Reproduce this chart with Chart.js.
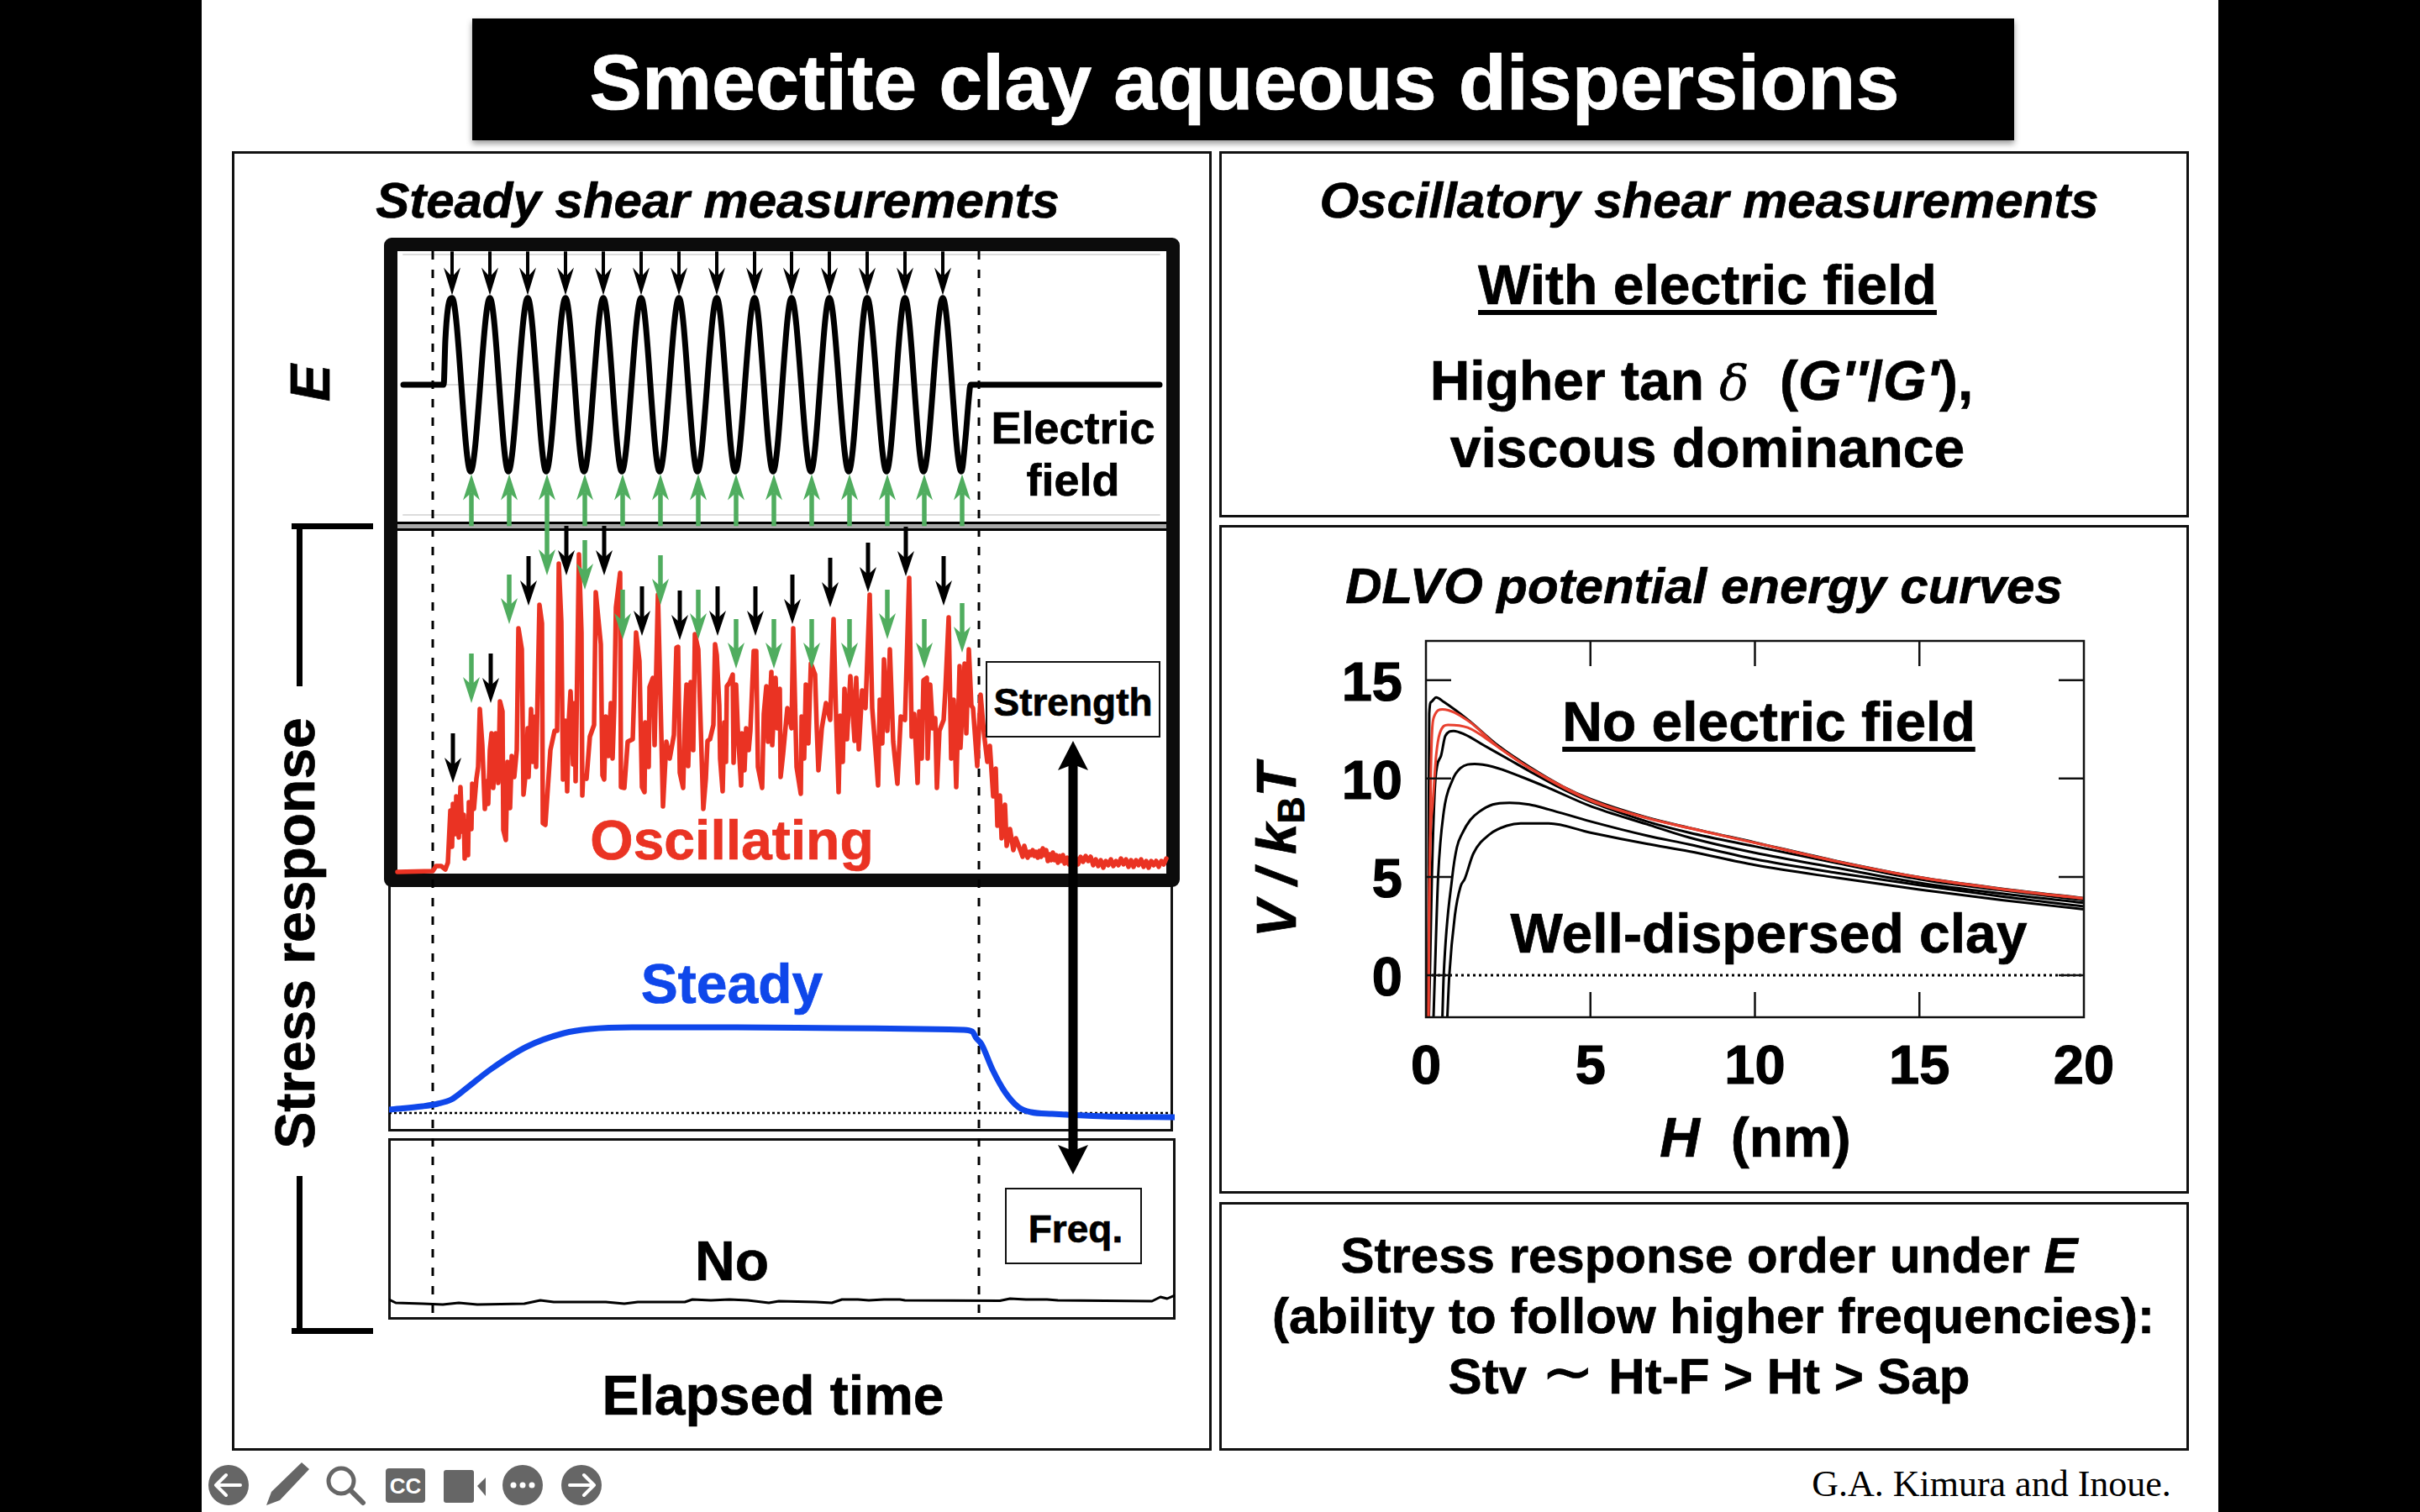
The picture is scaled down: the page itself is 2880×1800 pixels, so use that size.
<!DOCTYPE html>
<html>
<head>
<meta charset="utf-8">
<title>Smectite clay aqueous dispersions</title>
<script src="https://cdn.jsdelivr.net/npm/chart.js@4"></script>
<style>
  html, body { margin: 0; padding: 0; background: #000; }
  #slide { position: relative; width: 2880px; height: 1800px; background: #000; overflow: hidden;
           font-family: "Liberation Sans", Arial, sans-serif; font-weight: bold; color: #000; }
  #white { position: absolute; left: 240px; top: 0; width: 2400px; height: 1800px; background: #fff; }
  .box { position: absolute; box-sizing: border-box; border: 3px solid #111; background: #fff; }
  .t { position: absolute; white-space: nowrap; transform: translate(-50%, -50%); line-height: 1; z-index: 5; -webkit-text-stroke: 0.7px currentColor; }
  .v { transform: translate(-50%, -50%) rotate(-90deg); }
  .i { font-style: italic; }
  .u { text-decoration: underline; text-decoration-thickness: 6px; text-underline-offset: 7px; }
  canvas { position: absolute; z-index: 3; }
  .bar { position: absolute; background: #000; z-index: 2; }
</style>
</head>
<body>
<div id="slide">
  <div id="white"></div>

  <div style="position:absolute;left:562px;top:22px;width:1835px;height:145px;background:#000;box-shadow:0 4px 7px #999;"></div>
  <div class="t" style="left:1481px;top:98px;font-size:93.5px;color:#fff;">Smectite clay aqueous dispersions</div>

  <div class="box" style="left:276px;top:180px;width:1166px;height:1547px;"></div>
  <div class="box" style="left:1451px;top:180px;width:1154px;height:436px;"></div>
  <div class="box" style="left:1451px;top:625px;width:1154px;height:796px;"></div>
  <div class="box" style="left:1451px;top:1431px;width:1154px;height:296px;"></div>

  <!-- boxes under the left traces -->
  <div class="box" style="left:462px;top:1050px;width:934px;height:297px;"></div>
  <div class="box" style="left:462px;top:1355px;width:937px;height:216px;"></div>
  <div style="position:absolute;left:473px;top:621px;width:915px;height:11px;background:#a9a9a9;border-top:3px solid #000;border-bottom:3px solid #000;box-sizing:border-box;"></div>
  <div style="position:absolute;left:457px;top:283px;width:947px;height:773px;box-sizing:border-box;border:16.5px solid #0c0c0c;border-radius:9px;z-index:1;"></div>

  <!-- bracket beside the stress traces -->
  <div class="bar" style="left:347px;top:623px;width:97px;height:7px;"></div>
  <div class="bar" style="left:353px;top:623px;width:7px;height:194px;"></div>
  <div class="bar" style="left:353px;top:1400px;width:7px;height:186px;"></div>
  <div class="bar" style="left:347px;top:1581px;width:97px;height:7px;"></div>

  <canvas id="timeChart" width="935" height="1272" style="left:463px;top:299px;"></canvas>
  <canvas id="dlvoChart" width="980" height="557" style="left:1580px;top:743px;"></canvas>

  <div class="t i" style="left:854px;top:239px;font-size:60px;">Steady shear measurements</div>
  <div class="t i v" style="left:369px;top:456px;font-size:66px;">E</div>
  <div class="t v" style="left:351px;top:1111px;font-size:66px;">Stress response</div>
  <div class="t" style="left:1277px;top:509px;font-size:54px;">Electric</div>
  <div class="t" style="left:1277px;top:571px;font-size:54px;">field</div>
  <div class="t" style="left:871px;top:1000px;font-size:66px;color:#ea3323;">Oscillating</div>
  <div class="t" style="left:871px;top:1171px;font-size:66px;color:#0f47ea;">Steady</div>
  <div class="t" style="left:871px;top:1501px;font-size:66px;">No</div>
  <div class="t" style="left:920px;top:1661px;font-size:66px;">Elapsed time</div>

  <div class="box" style="left:1173px;top:787px;width:208px;height:91px;z-index:4;border-width:2.5px;"></div>
  <div class="t" style="left:1277px;top:836px;font-size:46px;">Strength</div>
  <div class="box" style="left:1196px;top:1414px;width:163px;height:91px;z-index:4;border-width:2.5px;"></div>
  <div class="t" style="left:1280px;top:1463px;font-size:46px;">Freq.</div>

  <div class="t i" style="left:2034px;top:239px;font-size:60px;">Oscillatory shear measurements</div>
  <div class="t u" style="left:2032px;top:339px;font-size:66px;">With electric field</div>
  <div class="t" style="left:2025px;top:453px;font-size:66px;">Higher tan <span style="font-family:'DejaVu Serif',serif;font-style:italic;font-weight:normal;font-size:58px;">δ</span>&nbsp; (<span class="i">G''</span>/<span class="i">G'</span>),</div>
  <div class="t" style="left:2032px;top:533px;font-size:66px;">viscous dominance</div>

  <div class="t i" style="left:2028px;top:698px;font-size:60px;">DLVO potential energy curves</div>
  <div class="t u" style="left:2105px;top:859px;font-size:66px;">No electric field</div>
  <div class="t" style="left:2105px;top:1111px;font-size:66px;">Well-dispersed clay</div>
  <div class="t i v" style="left:1519px;top:1012px;font-size:66px;">V / k<span style="font-size:44px;font-style:normal;position:relative;top:10px;">B</span>T</div>
  <div class="t" style="left:2089px;top:1354px;font-size:66px;"><span class="i">H</span>&nbsp; (nm)</div>

  <div class="t" style="left:2034px;top:1495px;font-size:60px;">Stress response order under <span class="i">E</span></div>
  <div class="t" style="left:2039px;top:1567px;font-size:60px;">(ability to follow higher frequencies):</div>
  <div class="t" style="left:2034px;top:1639px;font-size:60px;">Stv <span style="font-size:76px;font-weight:normal;line-height:0;">∼</span> Ht-F &gt; Ht &gt; Sap</div>

  <div class="t" style="left:2370px;top:1767px;font-size:44px;font-family:'Liberation Serif',serif;font-weight:normal;-webkit-text-stroke:0;">G.A. Kimura and Inoue.</div>

  <!-- player controls -->
  <svg width="480" height="70" viewBox="0 0 480 70" style="position:absolute;left:240px;top:1735px;" fill="#666">
    <circle cx="32" cy="33" r="24"/>
    <path d="M46 33H18M29 21L17 33L29 45" fill="none" stroke="#fff" stroke-width="4" stroke-linecap="round" stroke-linejoin="round"/>
    <path d="M119 6L128 14L93 51L77 57L83 41Z"/>
    <circle cx="166" cy="28" r="15" fill="none" stroke="#666" stroke-width="5"/>
    <line x1="177" y1="39" x2="192" y2="54" stroke="#666" stroke-width="6" stroke-linecap="round"/>
    <rect x="219" y="13" width="47" height="41" rx="4"/>
    <text x="242.5" y="43" font-size="26" font-weight="bold" fill="#fff" text-anchor="middle" font-family="Liberation Sans">CC</text>
    <rect x="288" y="15" width="36" height="39" rx="3"/>
    <path d="M328 34L338 24V46Z"/>
    <circle cx="382" cy="33" r="24"/>
    <circle cx="371" cy="33" r="3.5" fill="#fff"/><circle cx="382" cy="33" r="3.5" fill="#fff"/><circle cx="393" cy="33" r="3.5" fill="#fff"/>
    <circle cx="452" cy="33" r="24"/>
    <path d="M438 33H466M455 21L467 33L455 45" fill="none" stroke="#fff" stroke-width="4" stroke-linecap="round" stroke-linejoin="round"/>
  </svg>
</div>

<script>
// ===== DATA: field and stress against elapsed time (arbitrary units, field on at 0) =====
const fieldTime = [-35, 13, 15, 18, 23, 45, 68, 90, 113, 135, 158, 180, 203, 225, 248, 270, 293, 315, 338, 360,
  383, 405, 427, 450, 472, 495, 517, 540, 562, 584, 607, 629, 634, 638, 640, 865];
const fieldValue = [0, 0, 0.5, 0.85, 0.97, -0.97, 0.97, -0.97, 0.97, -0.97, 0.97, -0.97, 0.97, -0.97, 0.97, -0.97, 0.97, -0.97, 0.97, -0.97,
  0.97, -0.97, 0.97, -0.97, 0.97, -0.97, 0.97, -0.97, 0.97, -0.97, 0.97, -0.97, -0.6, -0.15, 0, 0];

const oscTime = [-42, 0, 4, 10, 15, 18, 21, 23, 24, 27,
  28, 31, 33, 35, 37, 38, 40, 42, 43, 46,
  47, 49, 52, 54, 56, 59, 62, 64, 66, 68,
  70, 72, 75, 78, 80, 83, 84, 87, 89, 92,
  94, 97, 100, 102, 106, 108, 111, 113, 114, 117,
  119, 122, 123, 127, 130, 131, 134, 140, 145, 148,
  150, 153, 155, 158, 160, 162, 164, 167, 169, 170,
  174, 177, 178, 179, 183, 187, 192, 194, 200, 202,
  204, 206, 209, 212, 214, 216, 218, 223, 224, 228,
  232, 238, 242, 246, 249, 252, 253, 257, 258, 262,
  264, 268, 272, 274, 278, 282, 287, 290, 292, 294,
  298, 300, 302, 304, 307, 310, 312, 316, 322, 325,
  327, 330, 334, 336, 338, 341, 342, 345, 347, 349,
  350, 353, 357, 358, 361, 363, 367, 368, 371, 373,
  376, 378, 382, 385, 387, 392, 394, 397, 399, 403,
  404, 408, 410, 413, 414, 417, 422, 427, 429, 433,
  438, 439, 442, 444, 447, 450, 455, 457, 459, 463,
  468, 473, 477, 480, 483, 485, 488, 490, 493, 497,
  502, 504, 507, 511, 515, 520, 523, 528, 530, 532,
  535, 537, 541, 544, 548, 553, 557, 562, 567, 570,
  573, 577, 579, 582, 584, 588, 589, 592, 595, 598,
  600, 603, 608, 610, 614, 617, 620, 623, 627, 628,
  633, 635, 638, 641, 643, 648, 652, 656, 660, 663,
  667, 670, 672, 675, 677, 681, 683, 687, 691, 694,
  700, 702, 704, 706, 708, 710, 712, 714, 716, 718,
  720, 722, 724, 726, 728, 730, 732, 734, 736, 738,
  740, 742, 744, 746, 748, 750, 752, 755, 757, 760,
  762, 765, 768, 771, 774, 777, 780, 783, 786, 789,
  792, 795, 798, 801, 804, 807, 810, 813, 816, 819,
  822, 825, 828, 831, 834, 837, 840, 843, 846, 849,
  852, 855, 858, 861, 864, 867, 870, 873];
const oscStress = [0, 1, 7, 7, 3, 11, 73, 30, 81, 45,
  90, 41, 101, 48, 68, 16, 60, 20, 83, 51,
  105, 75, 111, 125, 194, 151, 75, 108, 81, 145,
  165, 100, 165, 106, 203, 191, 50, 38, 131, 76,
  138, 113, 145, 290, 265, 92, 121, 171, 113, 194,
  131, 185, 125, 318, 296, 58, 56, 145, 168, 168,
  367, 298, 110, 180, 96, 181, 215, 128, 201, 108,
  378, 285, 91, 115, 111, 161, 175, 333, 271, 115,
  110, 185, 138, 201, 135, 195, 315, 356, 101, 100,
  155, 158, 285, 251, 101, 95, 178, 125, 220, 231,
  151, 330, 165, 78, 155, 135, 163, 267, 268, 118,
  100, 178, 223, 126, 226, 145, 283, 265, 75, 111,
  156, 158, 175, 271, 258, 198, 135, 96, 178, 131,
  221, 225, 235, 130, 223, 171, 103, 165, 121, 171,
  145, 168, 263, 263, 125, 100, 188, 221, 155, 238,
  151, 231, 171, 218, 113, 141, 195, 171, 290, 125,
  93, 185, 135, 223, 153, 248, 235, 171, 121, 171,
  201, 181, 301, 185, 95, 186, 131, 218, 158, 233,
  156, 231, 146, 216, 195, 330, 195, 131, 103, 205,
  153, 253, 168, 265, 155, 105, 185, 181, 350, 161,
  188, 106, 191, 135, 228, 231, 135, 223, 171, 183,
  100, 168, 181, 215, 303, 135, 205, 101, 245, 148,
  248, 165, 265, 198, 195, 126, 211, 165, 131, 150,
  90, 123, 55, 91, 40, 80, 31, 51, 26, 40,
  24, 18, 31, 24, 17, 24, 20, 26, 19, 24,
  17, 25, 18, 28, 20, 26, 13, 21, 14, 23,
  14, 20, 11, 19, 13, 20, 10, 17, 9, 17,
  10, 17, 9, 18, 12, 19, 13, 18, 8, 15,
  7, 14, 5, 13, 8, 15, 7, 13, 8, 16,
  9, 15, 6, 14, 6, 14, 8, 15, 6, 13,
  5, 13, 8, 13, 6, 13, 9, 16];

const steadyTime = [-52, -12, 6, 22, 37, 69, 112, 156, 187, 237, 362, 487, 631, 642, 647, 653, 666, 681, 697, 712, 737, 800, 883];
const steadyStress = [4, 8, 11, 16, 27, 52, 79, 95, 100, 102, 102, 101, 99, 97, 89, 82, 52, 25, 7, 1, -1, -4, -5];

const noTime = [-52, -44, -12, 12, 31, 53, 109, 128, 144, 206, 228, 244, 300, 309, 331, 353, 375, 400, 412, 456,
  475, 487, 506, 519, 537, 556, 562, 675, 687, 706, 731, 744, 856, 866, 874, 883];
const noStress = [24, 20, 19, 18, 20, 18, 19, 23, 21, 21, 19, 21, 21, 24, 23, 24, 23, 20, 22, 21,
  20, 24, 24, 23, 24, 24, 23, 22.5, 25, 24, 24, 23, 22, 27, 25, 29];

// markers on the field peaks and troughs, and the tips of the matching stress markers
const peakTimes = [23, 68, 113, 158, 203, 248, 293, 338, 383, 427, 472, 517, 562, 607];
const troughTimes = [45, 90, 135, 180, 225, 270, 315, 360, 405, 450, 495, 540, 584, 629];
const peakArrowTips = [106, 201, 317, 353, 353, 281, 276, 281, 281, 295, 315, 333, 352, 317];
const troughArrowTips = [201, 295, 353, 336, 277, 318, 277, 242, 242, 242, 242, 277, 242, 261];
const fieldOnOff = [0, 650];

// ===== DATA: DLVO curves, H in nm and V / kBT =====
const curveAH = [0.06, 0.08, 0.1, 0.16, 0.31, 0.54, 1.27, 2.2, 3.14, 4.16, 5, 6.7, 8, 10, 12.5, 15, 17.5, 20];
const curveAV = [-2.14, 5, 13.3, 13.9, 14.13, 13.9, 13, 11.67, 10.6, 9.6, 8.96, 8.03, 7.5, 6.75, 5.8, 4.98, 4.4, 3.92];
const redAH = [0.07, 0.08, 0.145, 0.25, 0.5, 1.27, 2.2, 3.14, 5, 6.7, 8, 10, 12.5, 15, 17.5, 20];
const redAV = [-2.14, -0.8, 10, 13.16, 13.52, 12.95, 11.6, 10.55, 8.92, 8, 7.48, 6.73, 5.78, 4.97, 4.38, 3.9];
const redBH = [0.08, 0.09, 0.2, 0.31, 0.42, 0.67, 1.27, 2.2, 3.14, 5, 6.7, 8, 10, 12.5, 15, 17.5, 20];
const redBV = [-2.14, 2.9, 8.6, 11.17, 12.3, 12.73, 12.59, 11.6, 10.53, 8.88, 8, 7.48, 6.73, 5.78, 4.97, 4.38, 3.9];
const curveBH = [0.09, 0.12, 0.18, 0.29, 0.46, 0.59, 0.84, 1.18, 1.78, 2.46, 3.14, 4.16, 5, 6.71, 8, 10, 12.5, 15, 17.5, 20];
const curveBV = [-2.14, 0, 5, 10, 11.17, 12.17, 12.42, 12.24, 11.67, 11.03, 10.38, 9.46, 8.82, 7.82, 7.25, 6.55, 5.7, 4.88, 4.32, 3.82];
const curveCH = [0.23, 0.27, 0.37, 0.54, 0.8, 1.05, 1.48, 2.03, 2.88, 3.73, 5, 6.71, 8, 10, 12.5, 15, 17.5, 20];
const curveCV = [-2.14, 0, 5, 8.3, 9.9, 10.53, 10.74, 10.6, 10.1, 9.52, 8.6, 7.68, 7, 6.22, 5.45, 4.7, 4.15, 3.68];
const curveDH = [0.5, 0.54, 0.8, 0.94, 1.1, 1.35, 1.61, 2.03, 2.54, 3.14, 3.73, 5, 6.71, 8, 10, 12.5, 15, 17.5, 20];
const curveDV = [-2.14, 0, 5, 6.5, 7.2, 7.9, 8.3, 8.68, 8.77, 8.68, 8.43, 7.82, 7.1, 6.65, 5.9, 5.2, 4.58, 4, 3.5];
const curveEH = [0.65, 0.71, 0.88, 1.05, 1.18, 1.44, 1.95, 2.46, 2.88, 3.73, 5, 6.71, 8, 10, 12.5, 15, 17.5, 20];
const curveEV = [-2.14, 0, 3.05, 4.5, 4.9, 6.18, 7.18, 7.6, 7.72, 7.72, 7.25, 6.68, 6.3, 5.6, 4.95, 4.35, 3.82, 3.35];
const xTickValues = [0, 5, 10, 15, 20];
const yTickValues = [0, 5, 10, 15];

// ===== HELPERS =====
const pts = (xs, ys) => xs.map((x, i) => ({ x: x, y: ys[i] }));

// every y scale spans the full canvas: place its zero and its unit size in pixels
const CANVAS_TOP = 299;
const CANVAS_H = 1272;
function band(zeroPx, pxPerUnit) {
  const max = (zeroPx - CANVAS_TOP) / pxPerUnit;
  return { display: false, max: max, min: max - CANVAS_H / pxPerUnit };
}

function drawArrow(ctx, x, yTail, yTip, o) {
  const dir = yTip > yTail ? 1 : -1;
  ctx.save();
  ctx.strokeStyle = o.color;
  ctx.fillStyle = o.color;
  ctx.lineWidth = o.shaft;
  ctx.beginPath();
  ctx.moveTo(x, yTail);
  ctx.lineTo(x, yTip - dir * (o.len - o.notch));
  ctx.stroke();
  ctx.beginPath();
  ctx.moveTo(x, yTip);
  ctx.lineTo(x + o.width / 2, yTip - dir * o.len);
  ctx.lineTo(x, yTip - dir * (o.len - o.notch));
  ctx.lineTo(x - o.width / 2, yTip - dir * o.len);
  ctx.closePath();
  ctx.fill();
  ctx.restore();
}

const BLACK_THIN = { color: "#000", shaft: 4, width: 20, len: 33, notch: 11 };
const BLACK_FAT = { color: "#000", shaft: 5, width: 20, len: 30, notch: 9 };
const GREEN = { color: "#50ad5f", shaft: 5.5, width: 20, len: 31, notch: 9 };
const BIG = { color: "#000", shaft: 11, width: 36, len: 35, notch: 7 };

const arrowPlugin = {
  id: "arrows",
  afterDatasetsDraw(chart) {
    const ctx = chart.ctx;
    const x = chart.scales.x;
    const yE = chart.scales.yE;
    const yOsc = chart.scales.yOsc;
    peakTimes.forEach((t, i) => {
      drawArrow(ctx, x.getPixelForValue(t), yE.getPixelForValue(1.49), yE.getPixelForValue(1), BLACK_THIN);
      const tip = yOsc.getPixelForValue(peakArrowTips[i]);
      drawArrow(ctx, x.getPixelForValue(t + 1), yOsc.getPixelForValue(peakArrowTips[i] + 59), tip, BLACK_FAT);
    });
    troughTimes.forEach((t, i) => {
      drawArrow(ctx, x.getPixelForValue(t + 1), yE.getPixelForValue(-1.58), yE.getPixelForValue(-1), GREEN);
      const tip = yOsc.getPixelForValue(troughArrowTips[i]);
      drawArrow(ctx, x.getPixelForValue(t + 1), yOsc.getPixelForValue(troughArrowTips[i] + 59), tip, GREEN);
    });
    // strength / frequency double arrow
    const bx = x.getPixelForValue(762);
    const top = yOsc.getPixelForValue(156);
    const bottom = yOsc.getPixelForValue(-360);
    const mid = (top + bottom) / 2;
    drawArrow(ctx, bx, mid, top, BIG);
    drawArrow(ctx, bx, mid, bottom, BIG);
  }
};

const insideTicksPlugin = {
  id: "insideTicks",
  afterDatasetsDraw(chart) {
    const ctx = chart.ctx;
    const a = chart.chartArea;
    const len = 30;
    ctx.save();
    ctx.strokeStyle = "#111";
    ctx.lineWidth = 2.5;
    ctx.strokeRect(a.left, a.top, a.right - a.left, a.bottom - a.top);
    ctx.beginPath();
    xTickValues.slice(1, -1).forEach((v) => {
      const px = chart.scales.x.getPixelForValue(v);
      ctx.moveTo(px, a.top);
      ctx.lineTo(px, a.top + len);
      ctx.moveTo(px, a.bottom);
      ctx.lineTo(px, a.bottom - len);
    });
    yTickValues.forEach((v) => {
      const py = chart.scales.y.getPixelForValue(v);
      ctx.moveTo(a.left, py);
      ctx.lineTo(a.left + len, py);
      ctx.moveTo(a.right, py);
      ctx.lineTo(a.right - len, py);
    });
    ctx.stroke();
    ctx.restore();
  }
};

// ===== ELAPSED TIME CHART =====
function traceLine(xs, ys, axis, color, width) {
  return {
    data: pts(xs, ys),
    yAxisID: axis,
    borderColor: color,
    borderWidth: width,
    pointRadius: 0,
    borderJoinStyle: "round",
    borderCapStyle: "round",
    tension: 0
  };
}

const fieldLine = traceLine(fieldTime, fieldValue, "yE", "#000", 7);
fieldLine.cubicInterpolationMode = "monotone";
const steadyLine = traceLine(steadyTime, steadyStress, "ySteady", "#0f47ea", 7);
steadyLine.cubicInterpolationMode = "monotone";

const guideLevels = [1.455, 0, -1.455];
const guideLines = guideLevels.map((v) => traceLine([-35, 865], [v, v], "yE", "#dcdcdc", 2));

const onOffLines = fieldOnOff.map((t) => {
  const line = traceLine([t, t], [1, 0.002], "yFrac", "#000", 3);
  line.borderDash = [10, 12];
  line.borderCapStyle = "butt";
  return line;
});

const zeroLine = traceLine([-52, 883], [0, 0], "ySteady", "#000", 2.5);
zeroLine.borderDash = [3, 3];
zeroLine.borderCapStyle = "butt";

new Chart(document.getElementById("timeChart").getContext("2d"), {
  type: "line",
  data: {
    datasets: [
      traceLine(oscTime, oscStress, "yOsc", "#ea3323", 5.5),
      steadyLine,
      traceLine(noTime, noStress, "yNo", "#000", 3),
      fieldLine,
      zeroLine,
      onOffLines[0],
      onOffLines[1],
      guideLines[0],
      guideLines[1],
      guideLines[2]
    ]
  },
  options: {
    responsive: false,
    animation: false,
    layout: { padding: 0 },
    plugins: { legend: { display: false }, tooltip: { enabled: false } },
    scales: {
      x: { type: "linear", display: false, min: -52, max: 883 },
      yE: band(458, 106.5),
      yOsc: band(1038, 1),
      ySteady: band(1325, 1),
      yNo: band(1571, 1),
      yFrac: { display: false, min: 0, max: 1 }
    }
  },
  plugins: [arrowPlugin]
});

// ===== DLVO CHART =====
function dlvoLine(xs, ys, color) {
  return {
    data: pts(xs, ys),
    borderColor: color,
    borderWidth: 3,
    pointRadius: 0,
    cubicInterpolationMode: "monotone"
  };
}

const dlvoZero = dlvoLine([0, 20], [0, 0], "#000");
dlvoZero.borderDash = [3, 4];

const tickFont = { family: "Liberation Sans", size: 65, weight: "bold" };

new Chart(document.getElementById("dlvoChart").getContext("2d"), {
  type: "line",
  data: {
    datasets: [
      dlvoLine(redAH, redAV, "#e8402f"),
      dlvoLine(redBH, redBV, "#e8402f"),
      dlvoLine(curveAH, curveAV, "#000"),
      dlvoLine(curveBH, curveBV, "#000"),
      dlvoLine(curveCH, curveCV, "#000"),
      dlvoLine(curveDH, curveDV, "#000"),
      dlvoLine(curveEH, curveEV, "#000"),
      dlvoZero
    ]
  },
  options: {
    responsive: false,
    animation: false,
    layout: { padding: { top: 20, right: 80, left: 0, bottom: 0 } },
    plugins: { legend: { display: false }, tooltip: { enabled: false } },
    scales: {
      x: {
        type: "linear",
        min: 0,
        max: 20,
        grid: { display: false },
        border: { display: false },
        afterBuildTicks: (s) => { s.ticks = xTickValues.map((v) => ({ value: v })); },
        afterFit: (s) => { s.height = 89; s.paddingLeft = 0; s.paddingRight = 0; },
        ticks: { color: "#000", font: tickFont, padding: 14, maxRotation: 0, autoSkip: false, textStrokeColor: "#000", textStrokeWidth: 1.2 }
      },
      y: {
        min: -2.14,
        max: 17,
        grid: { display: false },
        border: { display: false },
        afterBuildTicks: (s) => { s.ticks = yTickValues.map((v) => ({ value: v })); },
        afterFit: (s) => { s.width = 117; s.paddingTop = 0; s.paddingBottom = 0; },
        ticks: { color: "#000", font: tickFont, padding: 20, labelOffset: 6, autoSkip: false, textStrokeColor: "#000", textStrokeWidth: 1.2 }
      }
    }
  },
  plugins: [insideTicksPlugin]
});
</script>
</body>
</html>
